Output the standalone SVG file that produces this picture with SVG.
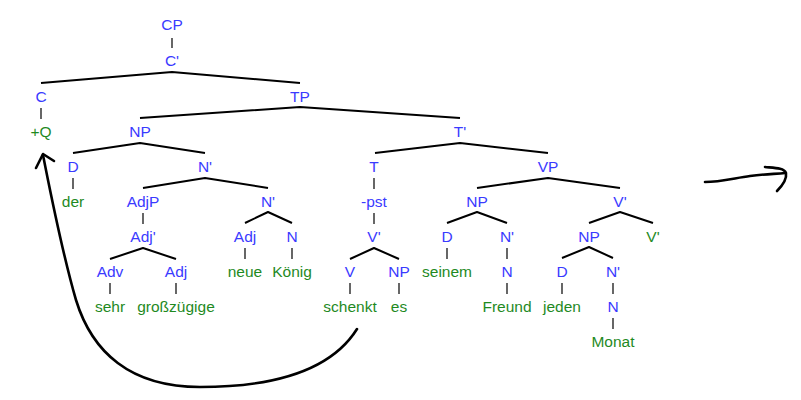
<svg xmlns="http://www.w3.org/2000/svg" width="801" height="400" viewBox="0 0 801 400">
<style>
text{font-family:"Liberation Sans",Arial,sans-serif;font-size:15.5px;text-anchor:middle}
.b{fill:#3a3aff}
.g{fill:#1f8a1f}
.v{stroke:#000;stroke-width:1.2;fill:none}
.br{stroke:#000;stroke-width:2;fill:none;stroke-linejoin:round}
.arr{stroke:#000;stroke-width:2.6;fill:none;stroke-linecap:round;stroke-linejoin:round}
</style>
<rect width="801" height="400" fill="#fff"/>
<g id="connectors">
<line class="v" x1="172" y1="38" x2="172" y2="48"/>
<line class="v" x1="41" y1="108" x2="41" y2="119"/>
<line class="v" x1="73" y1="178" x2="73" y2="189"/>
<line class="v" x1="143" y1="213" x2="143" y2="224"/>
<line class="v" x1="110" y1="283" x2="110" y2="294"/>
<line class="v" x1="176" y1="283" x2="176" y2="294"/>
<line class="v" x1="245" y1="248" x2="245" y2="259"/>
<line class="v" x1="292" y1="248" x2="292" y2="259"/>
<line class="v" x1="374" y1="178" x2="374" y2="189"/>
<line class="v" x1="374" y1="213" x2="374" y2="224"/>
<line class="v" x1="350" y1="283" x2="350" y2="294"/>
<line class="v" x1="399" y1="283" x2="399" y2="294"/>
<line class="v" x1="447" y1="248" x2="447" y2="259"/>
<line class="v" x1="507" y1="248" x2="507" y2="259"/>
<line class="v" x1="507" y1="283" x2="507" y2="294"/>
<line class="v" x1="562" y1="283" x2="562" y2="294"/>
<line class="v" x1="613" y1="283" x2="613" y2="294"/>
<line class="v" x1="613" y1="318" x2="613" y2="329"/>
<polyline class="br" points="41,83 172,72 300,83"/>
<polyline class="br" points="140,118 300,107 460,118"/>
<polyline class="br" points="73,153 140,143 205,153"/>
<polyline class="br" points="375,153 460,143 548,153"/>
<polyline class="br" points="143,188 205,178 268,188"/>
<polyline class="br" points="477,188 548,178 620,188"/>
<polyline class="br" points="110,259 143,248 176,259"/>
<polyline class="br" points="245,223 268,212 292,223"/>
<polyline class="br" points="350,259 374,248 399,259"/>
<polyline class="br" points="447,223 477,212 507,223"/>
<polyline class="br" points="589,223 620,212 653,223"/>
<polyline class="br" points="562,258 589,247 613,258"/>
<path class="arr" d="M357,329 C330,372 270,387 200,387 C130,387 92,352 76,300 C62,252 52,200 43,155"/>
<polyline class="arr" points="36,168 43,154 54,161"/>
<path class="arr" d="M705,182 C720,182 735,178 750,176 C765,174 775,174 785,173"/>
<path class="arr" d="M765,167 C775,168 784,168 786,173 C787,179 782,186 777,191"/>
</g>
<g id="n_CP"><text class="b" x="172" y="30">CP</text></g>
<g id="n_C1"><text class="b" x="172" y="66">C'</text></g>
<g id="n_C"><text class="b" x="41" y="102">C</text></g>
<g id="n_Q"><text class="g" x="41" y="137">+Q</text></g>
<g id="n_TP"><text class="b" x="300" y="102">TP</text></g>
<g id="n_NP1"><text class="b" x="140" y="137">NP</text></g>
<g id="n_T1"><text class="b" x="460" y="137">T'</text></g>
<g id="n_D1"><text class="b" x="73" y="172">D</text></g>
<g id="n_der"><text class="g" x="73" y="207">der</text></g>
<g id="n_N1"><text class="b" x="205" y="172">N'</text></g>
<g id="n_AdjP"><text class="b" x="143" y="207">AdjP</text></g>
<g id="n_Adj1"><text class="b" x="143" y="242">Adj'</text></g>
<g id="n_Adv"><text class="b" x="110" y="277">Adv</text></g>
<g id="n_sehr"><text class="g" x="110" y="312">sehr</text></g>
<g id="n_Adj2"><text class="b" x="176" y="277">Adj</text></g>
<g id="n_gross"><text class="g" x="176" y="312">großzügige</text></g>
<g id="n_N2"><text class="b" x="268" y="207">N'</text></g>
<g id="n_Adj3"><text class="b" x="245" y="242">Adj</text></g>
<g id="n_neue"><text class="g" x="245" y="277">neue</text></g>
<g id="n_N3"><text class="b" x="292" y="242">N</text></g>
<g id="n_Koenig"><text class="g" x="292" y="277">König</text></g>
<g id="n_T"><text class="b" x="374" y="172">T</text></g>
<g id="n_pst"><text class="b" x="374" y="207">-pst</text></g>
<g id="n_V1"><text class="b" x="374" y="242">V'</text></g>
<g id="n_V"><text class="b" x="350" y="277">V</text></g>
<g id="n_schenkt"><text class="g" x="350" y="312">schenkt</text></g>
<g id="n_NP2"><text class="b" x="399" y="277">NP</text></g>
<g id="n_es"><text class="g" x="399" y="312">es</text></g>
<g id="n_VP"><text class="b" x="548" y="172">VP</text></g>
<g id="n_NP3"><text class="b" x="477" y="207">NP</text></g>
<g id="n_D2"><text class="b" x="447" y="242">D</text></g>
<g id="n_seinem"><text class="g" x="447" y="277">seinem</text></g>
<g id="n_N4"><text class="b" x="507" y="242">N'</text></g>
<g id="n_N5"><text class="b" x="507" y="277">N</text></g>
<g id="n_Freund"><text class="g" x="507" y="312">Freund</text></g>
<g id="n_V2"><text class="b" x="620" y="207">V'</text></g>
<g id="n_NP4"><text class="b" x="589" y="242">NP</text></g>
<g id="n_V3"><text class="g" x="653" y="242">V'</text></g>
<g id="n_D3"><text class="b" x="562" y="277">D</text></g>
<g id="n_jeden"><text class="g" x="562" y="312">jeden</text></g>
<g id="n_N6"><text class="b" x="613" y="277">N'</text></g>
<g id="n_N7"><text class="b" x="613" y="312">N</text></g>
<g id="n_Monat"><text class="g" x="613" y="347">Monat</text></g>
</svg>
